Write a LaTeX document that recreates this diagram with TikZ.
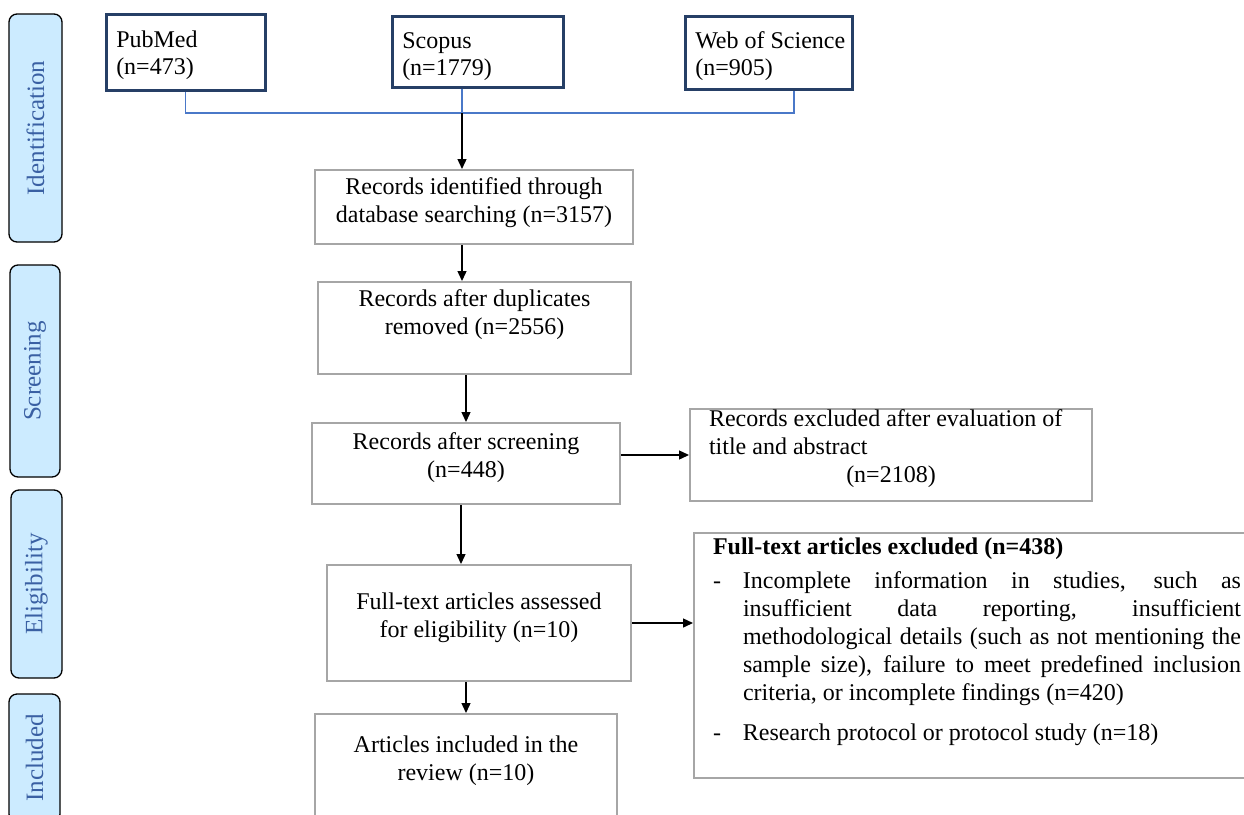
\documentclass[tikz,border=0pt]{standalone}
\usepackage{fontspec}
\setmainfont{Liberation Serif}
\usepackage{tikz}
\usetikzlibrary{arrows.meta,positioning,calc}
\definecolor{navy}{HTML}{263F66}
\definecolor{sky}{HTML}{CCEBFF}
\definecolor{ink}{HTML}{3A60A3}
\definecolor{frame}{HTML}{A6A6A6}
\definecolor{link}{HTML}{4A78C8}
\newcommand{\itemline}[1]{\makebox[30pt][l]{-}\makebox[498pt][s]{#1}}
\newcommand{\restline}[1]{\hspace*{30pt}\makebox[498pt][s]{#1}}
\tikzset{
  >={Triangle[length=10pt,width=9pt]},
  flow/.style={->,line width=1.4pt,draw=black},
  joinline/.style={draw=link,line width=1.2pt},
  vpos/.style 2 args={text height=#1pt,text depth=#2pt},
  box/.style={draw=frame,line width=2pt,inner sep=0pt,anchor=north west,
    align=center,font=\fontsize{24}{28}\selectfont,
    execute at begin node={\spaceskip=0.25em\xspaceskip=0.25em\hyphenpenalty=10000}},
  srcbox/.style={box,draw=navy,line width=2.5pt,inner xsep=7pt,align=left,
    font=\fontsize{24}{27.6}\selectfont},
  notebox/.style={box,inner xsep=19pt,align=left,
    execute at begin node={\spaceskip=0pt\xspaceskip=0pt\hyphenpenalty=10000}},
  phase/.style={draw=black,line width=1.3pt,fill=sky,rounded corners=8pt,
    rotate=90,text=ink,font=\fontsize{25}{30}\selectfont,inner sep=0pt}
}
\begin{document}
\begin{tikzpicture}[x=1pt,y=-1pt]
  \useasboundingbox (0,0) rectangle (1244,814);
  \clip (0,0) rectangle (1244,814);
  % phase tabs
  \node[phase,minimum width=228pt,minimum height=53pt] (ident) at (35.5,128) {Identification};
  \node[phase,minimum width=212pt,minimum height=50pt] (screen) at (35,371) {Screening};
  \node[phase,minimum width=188pt,minimum height=51pt] (elig) at (36.5,584) {Eligibility};
  \node[phase,minimum width=128pt,minimum height=51pt] (incl) at (34.5,758) {Included};
  % databases
  \node[srcbox,text width=145pt,vpos={33}{43}] (pubmed) at (105,13) {\hspace*{3pt}PubMed\\\hspace*{3pt}(n=473)};
  \node[srcbox,text width=157pt,vpos={32}{39}] (scopus) at (391,15) {\hspace*{3pt}Scopus\\\hspace*{3pt}(n=1779)};
  \node[srcbox,text width=153pt,vpos={32}{41}] (wos) at (684,15) {\hspace*{3pt}Web of Science\\\hspace*{3pt}(n=905)};
  % main column
  \node[box,text width=318pt,vpos={24}{50}] (rid) at (314,169) {Records identified through\\database searching (n=3157)};
  \node[box,text width=313pt,vpos={24}{68}] (rdup) at (317,281) {Records after duplicates\\removed (n=2556)};
  \node[box,text width=308pt,vpos={26}{55}] (rscr) at (311,422) {Records after screening\\(n=448)};
  \node[box,text width=304pt,vpos={44}{72}] (fta) at (326,564) {Full-text articles assessed\\for eligibility (n=10)};
  \node[box,text width=302pt,vpos={38}{79}] (art) at (314,713) {Articles included in the\\review (n=10)};
  % exclusions
  \node[notebox,text width=364pt,vpos={17}{75}] (rexc) at (689,408)
    {Records excluded after evaluation of\\title and abstract\\\makebox[\linewidth]{(n=2108)}};
  \node[notebox,text width=528pt,vpos={21}{224}] (fte) at (693,532)
    {\textbf{Full-text articles excluded (n=438)}\\[6pt]
     \itemline{Incomplete information in studies, such as}\\
     \restline{insufficient data reporting, insufficient}\\
     \restline{methodological details (such as not mentioning the}\\
     \restline{sample size), failure to meet predefined inclusion}\\
     \hspace*{30pt}criteria, or incomplete findings (n=420)\\[12pt]
     \makebox[30pt][l]{-}Research protocol or protocol study (n=18)};
  % connectors
  \coordinate (join) at (462,113);
  \coordinate (wosbar) at (794,113);
  \draw[joinline] (pubmed.south) |- (wosbar) -- (wosbar |- wos.south);
  \draw[joinline] (join |- scopus.south) -- (join);
  \draw[flow] (join) -- (join |- rid.north);
  \draw[flow] (join |- rid.south) -- (join |- rdup.north);
  \draw[flow] (rdup.south -| rscr.north) -- (rscr.north);
  \draw[flow] ([xshift=-5pt]rscr.south) -- ([xshift=-5pt]rscr.south |- fta.north);
  \draw[flow] (fta.south -| art.north) -- (art.north);
  \draw[flow] (rscr.east |- rexc.west) -- (rexc.west);
  \draw[flow] (fta.east) -- (fta.east -| fte.west);
\end{tikzpicture}
\end{document}
